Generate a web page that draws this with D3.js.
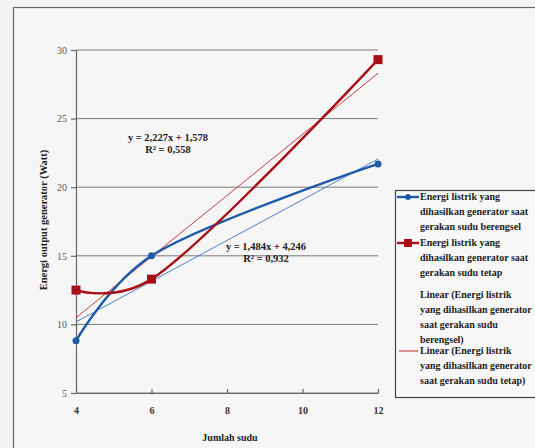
<!DOCTYPE html>
<html><head><meta charset="utf-8">
<script src="https://cdn.jsdelivr.net/npm/d3@7"></script>
<style>
html,body{margin:0;padding:0;background:#f4f4f4;}
svg{display:block;}
text{font-family:"Liberation Serif","DejaVu Serif",serif;}
</style></head>
<body>
<svg id="c" width="535" height="448"></svg>
<script>
const xValues = [4, 6, 12];
const blueValues = [8.8, 15.0, 21.7];
const redValues = [12.5, 13.3, 29.3];
const blueTrend = [1.484, 4.246]; // slope, intercept
const redTrend = [2.227, 1.578];
const xTicks = [4, 6, 8, 10, 12];
const yTicks = [5, 10, 15, 20, 25, 30];
const blueEq = ["y = 1,484x + 4,246", "R² = 0,932"];
const redEq = ["y = 2,227x + 1,578", "R² = 0,558"];
const legendBlue = ["Energi listrik yang", "dihasilkan generator saat", "gerakan sudu berengsel"];
const legendRed = ["Energi listrik yang", "dihasilkan generator saat", "gerakan sudu tetap"];
const legendBlueLin = ["Linear (Energi listrik", "yang dihasilkan generator", "saat gerakan sudu", "berengsel)"];
const legendRedLin = ["Linear (Energi listrik", "yang dihasilkan generator", "saat gerakan sudu tetap)"];

const svg = d3.select("#c");
const blue = "#1f5aa8", red = "#a50f15";

svg.append("rect").attr("x",13.5).attr("y",7.5).attr("width",540).attr("height",460)
  .attr("fill","#f6f6f6").attr("stroke","#6a6a6a").attr("stroke-width",1.2);

const x = d3.scaleLinear().domain([4,12]).range([76,378]);
const y = d3.scaleLinear().domain([5,30]).range([393,50]);

// gridlines
svg.append("g").selectAll("line").data(yTicks).join("line")
  .attr("x1",76).attr("x2",378).attr("y1",d=>y(d)).attr("y2",d=>y(d))
  .attr("stroke","#7a7a7a").attr("stroke-width",1);

const yAxis = svg.append("g").attr("transform","translate(76,0)")
  .call(d3.axisLeft(y).tickValues(yTicks).tickSize(5).tickSizeOuter(0));
const xAxis = svg.append("g").attr("transform","translate(0,393)")
  .call(d3.axisBottom(x).tickValues(xTicks).tickSize(-4).tickSizeOuter(0));
[yAxis,xAxis].forEach(a=>{
  a.selectAll("path,line").attr("stroke","#666").attr("stroke-width",1.2);
  a.selectAll("text").attr("font-size",10).attr("font-weight","bold").attr("fill","#333")
    .style("font-family","'Liberation Serif',serif");
});
yAxis.selectAll("text").attr("x",-9).attr("font-weight","normal").attr("fill","#555");
xAxis.selectAll("text").attr("y",14);

// trendlines
function trend(c, col, w){
  svg.append("line").attr("x1",x(4)).attr("x2",x(12))
    .attr("y1",y(c[0]*4+c[1])).attr("y2",y(c[0]*12+c[1]))
    .attr("stroke",col).attr("stroke-width",w);
}
trend(blueTrend, "#3a72c4", 0.9);
trend(redTrend, "#c0282e", 0.9);

// smooth data lines
const line = d3.line().x((d,i)=>x(xValues[i])).y(d=>y(d)).curve(d3.curveCatmullRom.alpha(0.25));
svg.append("path").attr("d",line(blueValues)).attr("fill","none").attr("stroke",blue).attr("stroke-width",2.4);
svg.append("path").attr("d",line(redValues)).attr("fill","none").attr("stroke",red).attr("stroke-width",2.4);

svg.append("g").selectAll("circle").data(blueValues).join("circle")
  .attr("cx",(d,i)=>x(xValues[i])).attr("cy",d=>y(d)).attr("r",3.5).attr("fill",blue);
svg.append("g").selectAll("rect").data(redValues).join("rect")
  .attr("x",(d,i)=>x(xValues[i])-4.5).attr("y",d=>y(d)-4.5).attr("width",9).attr("height",9).attr("fill",red);

// equations
function eq(lines, cx, cy){
  svg.append("g").selectAll("text").data(lines).join("text")
    .attr("x",cx).attr("y",(d,i)=>cy+i*12).attr("text-anchor","middle")
    .attr("font-size",10.5).attr("font-weight","bold").attr("fill","#222").text(d=>d);
}
eq(redEq, 168, 141);
eq(blueEq, 266, 250);

// axis titles
svg.append("text").attr("x",230).attr("y",441).attr("text-anchor","middle")
  .attr("font-size",10).attr("font-weight","bold").attr("fill","#222").text("Jumlah sudu");
svg.append("text").attr("transform","translate(47,220) rotate(-90)").attr("text-anchor","middle")
  .attr("font-size",10.5).attr("font-weight","bold").attr("fill","#222").text("Energi output generator (Watt)");

// legend
const lg = svg.append("g");
lg.append("rect").attr("x",395.5).attr("y",190.5).attr("width",150).attr("height",207)
  .attr("fill","#f8f8f8").attr("stroke","#444").attr("stroke-width",1.2);
function legText(lines, y0){
  lg.append("g").selectAll("text").data(lines).join("text")
    .attr("x",420).attr("y",(d,i)=>y0+i*15).attr("font-size",10).attr("font-weight","bold")
    .attr("fill","#222").text(d=>d);
}
legText(legendBlue, 200);
legText(legendRed, 246);
legText(legendBlueLin, 298);
legText(legendRedLin, 354);
lg.append("line").attr("x1",397).attr("x2",419).attr("y1",197).attr("y2",197).attr("stroke",blue).attr("stroke-width",2.4);
lg.append("circle").attr("cx",408).attr("cy",197).attr("r",3).attr("fill",blue);
lg.append("line").attr("x1",397).attr("x2",419).attr("y1",243).attr("y2",243).attr("stroke",red).attr("stroke-width",2.4);
lg.append("rect").attr("x",404).attr("y",239).attr("width",8).attr("height",8).attr("fill",red);
lg.append("line").attr("x1",399).attr("x2",418).attr("y1",351).attr("y2",351).attr("stroke","#c0282e").attr("stroke-width",1);
</script>
</body></html>
